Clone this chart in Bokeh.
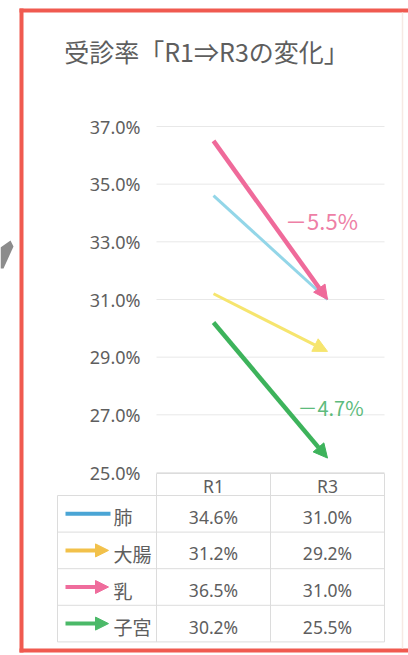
from bokeh.plotting import figure
from bokeh.models import Range1d, FixedTicker, PrintfTickFormatter, Arrow, NormalHead
from bokeh.embed import file_html
from bokeh.resources import INLINE
from bokeh.core.properties import value

# ---------------- data ----------------
title_text = "受診率「R1⇒R3の変化」"
categories = ["R1", "R3"]
series = ["肺", "大腸", "乳", "子宮"]
r1_values = [34.6, 31.2, 36.5, 30.2]
r3_values = [31.0, 29.2, 31.0, 25.5]
y_ticks = [25, 27, 29, 31, 33, 35, 37]
labeled_series = ["乳", "子宮"]

# ---------------- styles ----------------
GRAY = "#5E5E5E"
NUM_FONT = "Noto Sans"
JP_FONT = "Noto Sans CJK JP"
RED = "#F05A50"
line_colors = {"肺": "#93D6E8", "大腸": "#F6E56E", "乳": "#EF6A9A", "子宮": "#3DB35B"}
key_colors = {"肺": "#4AA5D5", "大腸": "#F2C14A", "乳": "#EF6C9C", "子宮": "#4BB968"}
label_colors = {"乳": "#EE7FA6", "子宮": "#5DBB7C"}
label_sizes = {"乳": "22px", "子宮": "20px"}
label_offsets = {"乳": (51, 0), "子宮": (60, 17)}
line_widths = {"肺": 3, "大腸": 3, "乳": 4.5, "子宮": 4.5}
has_head = {"肺": False, "大腸": True, "乳": True, "子宮": True}
draw_order = ["大腸", "子宮", "肺", "乳"]

# ---------------- geometry (page px) ----------------
W, H = 408, 655
CAT0, UNIT = 156, 114                 # x of first category boundary, px per category
Y_TOP_PX, Y_BOT_PX = 126, 472         # px of top / bottom tick
TBL_TOP, ROW, HDR_PX = 473, 36.6, 22  # table geometry
KEY_LEFT_PX = 57                      # left edge of table key column
LABEL_RIGHT_PX = 140                  # right edge of y tick labels

ncat, nrow = len(categories), len(series)
cat_x = {c: i + 0.5 for i, c in enumerate(categories)}
ymin, ymax = min(y_ticks), max(y_ticks)
ppy = (Y_BOT_PX - Y_TOP_PX) / (ymax - ymin)
HDR = HDR_PX / ROW
KW = (CAT0 - KEY_LEFT_PX) / UNIT


def ux(px):
    return (px - CAT0) / UNIT


def uy(py):
    return ymax + (Y_TOP_PX - py) / ppy


p = figure(width=W, height=H, x_range=Range1d(ux(0), ux(W)),
           y_range=Range1d(uy(H), uy(0)),
           output_backend="svg", toolbar_location=None, tools="",
           x_axis_location=None,
           min_border_left=0, min_border_right=0,
           min_border_top=0, min_border_bottom=0)
p.extra_y_ranges = {"table": Range1d(-HDR + (H - TBL_TOP) / ROW, -HDR - TBL_TOP / ROW),
                    "py": Range1d(H, 0)}
p.extra_x_ranges = {"px": Range1d(0, W)}
p.outline_line_color = None
p.background_fill_color = "white"
p.border_fill_color = "white"
p.xgrid.grid_line_color = None
p.ygrid.grid_line_color = None

# ---------------- frame decoration ----------------
p.quad(left=[19, 19, 19], right=[23, W, W], top=[8, 8, 648], bottom=[652, 12, 652],
       fill_color=RED, line_color=None, x_range_name="px", y_range_name="py")
p.segment(x0=[402], x1=[402], y0=[12], y1=[648], line_color="#F6E9E4", line_width=1.5,
          x_range_name="px", y_range_name="py")
p.patch(x=[0, 10, 13, 3, 0], y=[247, 240, 246, 268, 268], fill_color="#8C8C8C",
        line_color=None, x_range_name="px", y_range_name="py")

# ---------------- y axis (labels inside the chart box) ----------------
ax = p.yaxis[0]
ax.ticker = FixedTicker(ticks=y_ticks)
ax.formatter = PrintfTickFormatter(format="%.1f%%")
ax.axis_line_color = None
ax.major_tick_line_color = None
ax.minor_tick_line_color = None
ax.major_tick_out = 0
ax.major_tick_in = 0
ax.minor_tick_out = 0
ax.major_label_standoff = -LABEL_RIGHT_PX
ax.major_label_text_font = NUM_FONT
ax.major_label_text_font_size = "18px"
ax.major_label_text_color = GRAY

# title
p.text(x=[ux(206)], y=[uy(50)], text=[title_text],
       text_align="center", text_baseline="middle", text_color=GRAY,
       text_font=value(JP_FONT), text_font_size="25px")

# gridlines over the chart area
p.segment(x0=[0] * len(y_ticks), x1=[ncat] * len(y_ticks), y0=y_ticks, y1=y_ticks,
          line_color="#E8E8E8", line_width=1)

# series lines / arrows
for s in draw_order:
    i = series.index(s)
    x0, x1 = cat_x[categories[0]], cat_x[categories[1]]
    y0, y1 = r1_values[i], r3_values[i]
    c = line_colors[s]
    if has_head[s]:
        p.add_layout(Arrow(end=NormalHead(size=14, fill_color=c, line_color=c, line_width=1),
                           x_start=x0, y_start=y0, x_end=x1, y_end=y1,
                           line_color=c, line_width=line_widths[s]))
    else:
        p.line([x0, x1], [y0, y1], line_color=c, line_width=line_widths[s])

# change labels
for s in labeled_series:
    i = series.index(s)
    diff = r3_values[i] - r1_values[i]
    txt = ("－" if diff < 0 else "＋") + f"{abs(diff):.1f}%"
    xm = (cat_x[categories[0]] + cat_x[categories[1]]) / 2
    ym = (r1_values[i] + r3_values[i]) / 2
    dx, dy = label_offsets[s]
    p.text(x=[xm], y=[ym], text=[txt], x_offset=dx, y_offset=dy,
           text_align="center", text_baseline="middle",
           text_color=label_colors[s], text_font=value(JP_FONT),
           text_font_size=label_sizes[s])

# ---------------- data table ----------------
GRID = "#DCDCDC"
hx0 = [0] + [-KW] * (nrow + 1)
hx1 = [ncat] * (nrow + 2)
hy = [-HDR] + list(range(nrow + 1))
p.segment(x0=hx0, y0=hy, x1=hx1, y1=hy, line_color=GRID, line_width=1, y_range_name="table")
vx = [-KW] + list(range(ncat + 1))
vy0 = [0] + [-HDR] * (ncat + 1)
vy1 = [nrow] * (ncat + 2)
p.segment(x0=vx, y0=vy0, x1=vx, y1=vy1, line_color=GRID, line_width=1, y_range_name="table")

p.text(x=[cat_x[c] for c in categories], y=[-HDR / 2] * ncat, text=categories,
       text_align="center", text_baseline="middle", y_offset=1, y_range_name="table",
       text_color=GRAY, text_font=value(NUM_FONT), text_font_size="17.5px")

vals_x, vals_y, vals_t = [], [], []
for j, s in enumerate(series):
    for c, arr in zip(categories, (r1_values, r3_values)):
        vals_x.append(cat_x[c])
        vals_y.append(j + 0.5)
        vals_t.append(f"{arr[j]:.1f}%")
p.text(x=vals_x, y=vals_y, text=vals_t, text_align="center", text_baseline="middle",
       y_offset=3, y_range_name="table",
       text_color=GRAY, text_font=value(NUM_FONT), text_font_size="17.5px")

KEY_X0, KEY_X1, LAB_X = ux(65), ux(110), ux(113)
for j, s in enumerate(series):
    c = key_colors[s]
    if has_head[s]:
        p.add_layout(Arrow(end=NormalHead(size=13, fill_color=c, line_color=c, line_width=1),
                           x_start=KEY_X0, y_start=j + 0.5, x_end=ux(108), y_end=j + 0.5,
                           line_color=c, line_width=4, y_range_name="table"))
    else:
        p.line([KEY_X0, KEY_X1], [j + 0.5, j + 0.5], line_color=c, line_width=4,
               y_range_name="table")
p.text(x=[LAB_X] * nrow, y=[j + 0.5 for j in range(nrow)], text=series,
       text_align="left", text_baseline="middle", y_offset=3, y_range_name="table",
       text_color=GRAY, text_font=value(JP_FONT), text_font_size="19px")

open("out.html", "w").write(file_html(p, INLINE))
